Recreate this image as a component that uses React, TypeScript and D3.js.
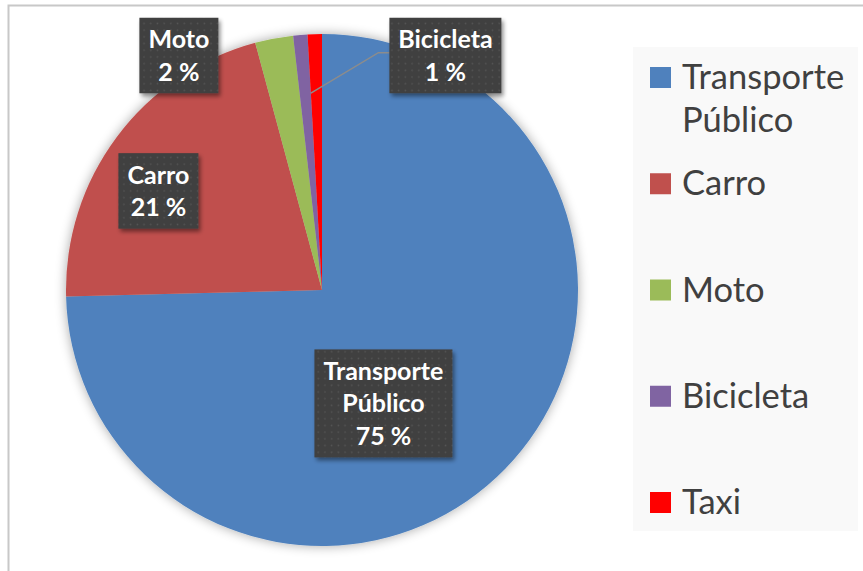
import React, { useMemo } from "react";
import * as d3 from "d3";

// ---- data ----
const categories = ["Transporte Público", "Carro", "Moto", "Bicicleta", "Taxi"];
const values = [74.6, 21.2, 2.4, 0.9, 0.9];
const colors = ["#4F81BD", "#C0504D", "#9BBB59", "#8064A2", "#FF0000"];
const legendLines = [["Transporte", "Público"], ["Carro"], ["Moto"], ["Bicicleta"], ["Taxi"]];
const dataLabelLines = [["Transporte", "Público"], ["Carro"], ["Moto"], ["Bicicleta"], []];
const showDataLabel = [true, true, true, true, false];

// ---- layout ----
const W = 863;
const H = 571;
const CX = 322;
const CY = 290;
const R = 256;
// data label box centers, as fractions of radius relative to pie center
const labelPos: [number, number][] = [
  [0.24, 0.443],
  [-0.639, -0.387],
  [-0.559, -0.916],
  [0.482, -0.916],
  [0, 0],
];
const LABEL_FONT_SIZE = 25;
const LABEL_FONT = `bold ${LABEL_FONT_SIZE}px Lato`;
const LEGEND_FONT_SIZE = 34.5;

function measure(text: string, font: string): number {
  const c = document.createElement("canvas");
  const ctx = c.getContext("2d");
  if (!ctx) return text.length * 12;
  ctx.font = font;
  return ctx.measureText(text).width;
}

export default function App() {
  const total = d3.sum(values);
  const arcs = useMemo(
    () => d3.pie<number>().sort(null).value((d) => d).startAngle(0).endAngle(2 * Math.PI)(values),
    []
  );
  const arcGen = d3.arc<d3.PieArcDatum<number>>().innerRadius(0).outerRadius(R);

  const lineH = 32.5;
  const padX = 9;

  const labels = arcs.map((a, i) => {
    if (!showDataLabel[i]) return null;
    const lines = [...dataLabelLines[i], `${Math.round((values[i] / total) * 100)} %`];
    const w = d3.max(lines, (l) => measure(l, LABEL_FONT)) as number;
    const bw = Math.round(w + padX * 2);
    const bh = 43 + (lines.length - 1) * lineH;
    const cx = CX + labelPos[i][0] * R;
    const cy = CY + labelPos[i][1] * R;
    return { i, lines, bw, bh, x: cx - bw / 2, y: cy - bh / 2, cx };
  });

  // leader line for Bicicleta label
  const bici = arcs[3];
  const leaderR = 0.77 * R;
  const lp = [CX + Math.sin(bici.endAngle) * leaderR, CY - Math.cos(bici.endAngle) * leaderR];
  const biciLabel = labels[3]!;

  const legendX = 650;
  const legendTop = 67;
  const legendStep = 106.25;

  return (
    <svg
      width={W}
      height={H}
      style={{ position: "absolute", left: 0, top: 0, background: "#fff" }}
      fontFamily="Lato, sans-serif"
    >
      <defs>
        <filter id="pieShadow" x="-20%" y="-20%" width="140%" height="140%">
          <feGaussianBlur in="SourceAlpha" stdDeviation="6" />
          <feOffset dx="0" dy="0" result="b" />
          <feComponentTransfer>
            <feFuncA type="linear" slope="0.35" />
          </feComponentTransfer>
          <feMerge>
            <feMergeNode />
            <feMergeNode in="SourceGraphic" />
          </feMerge>
        </filter>
        <filter id="boxShadow" x="-20%" y="-20%" width="140%" height="140%">
          <feGaussianBlur in="SourceAlpha" stdDeviation="2" />
          <feOffset dx="2" dy="3" />
          <feComponentTransfer>
            <feFuncA type="linear" slope="0.45" />
          </feComponentTransfer>
          <feMerge>
            <feMergeNode />
            <feMergeNode in="SourceGraphic" />
          </feMerge>
        </filter>
        <radialGradient id="dotGrad">
          <stop offset="0%" stopColor="#555555" />
          <stop offset="100%" stopColor="#404040" stopOpacity="0" />
        </radialGradient>
        <pattern id="dots" width="6.7" height="6.7" patternUnits="userSpaceOnUse">
          <rect width="6.7" height="6.7" fill="#3f3f3f" />
          <circle cx="3.35" cy="3.35" r="2.2" fill="url(#dotGrad)" />
        </pattern>
      </defs>

      {/* chart frame */}
      <rect x={8.5} y={5.5} width={W + 20} height={H + 20} fill="#fff" stroke="#c8c8c8" strokeWidth={2} />

      {/* legend background */}
      <rect x={633} y={47} width={225} height={484} fill="#f9f9f9" />

      {/* pie */}
      <g transform={`translate(${CX},${CY})`} filter="url(#pieShadow)">
        {arcs.map((a, i) => (
          <path key={categories[i]} d={arcGen(a) as string} fill={colors[i]} />
        ))}
      </g>

      {/* leader line */}
      <polyline
        points={`${biciLabel.x},${CY - 0.927 * R} ${biciLabel.x - 11},${CY - 0.927 * R} ${lp[0]},${lp[1]}`}
        fill="none"
        stroke="#8c8c8c"
        strokeWidth={1.5}
      />

      {/* data labels */}
      {labels.map((l) =>
        l ? (
          <g key={categories[l.i]}>
            <rect x={l.x} y={l.y} width={l.bw} height={l.bh} fill="url(#dots)" filter="url(#boxShadow)" />
            {l.lines.map((t, j) => (
              <text
                key={j}
                x={l.cx}
                y={l.y + 30.5 + j * lineH}
                textAnchor="middle"
                fill="#fff"
                fontWeight="bold"
                fontSize={LABEL_FONT_SIZE}
              >
                {t}
              </text>
            ))}
          </g>
        ) : null
      )}

      {/* legend */}
      {categories.map((c, i) => {
        const y = legendTop + i * legendStep;
        return (
          <g key={c}>
            <rect x={legendX} y={y} width={21} height={21} fill={colors[i]} />
            {legendLines[i].map((t, j) => (
              <text key={j} x={682} y={y + 22 + j * 43} fill="#404040" fontSize={LEGEND_FONT_SIZE}>
                {t}
              </text>
            ))}
          </g>
        );
      })}
    </svg>
  );
}
